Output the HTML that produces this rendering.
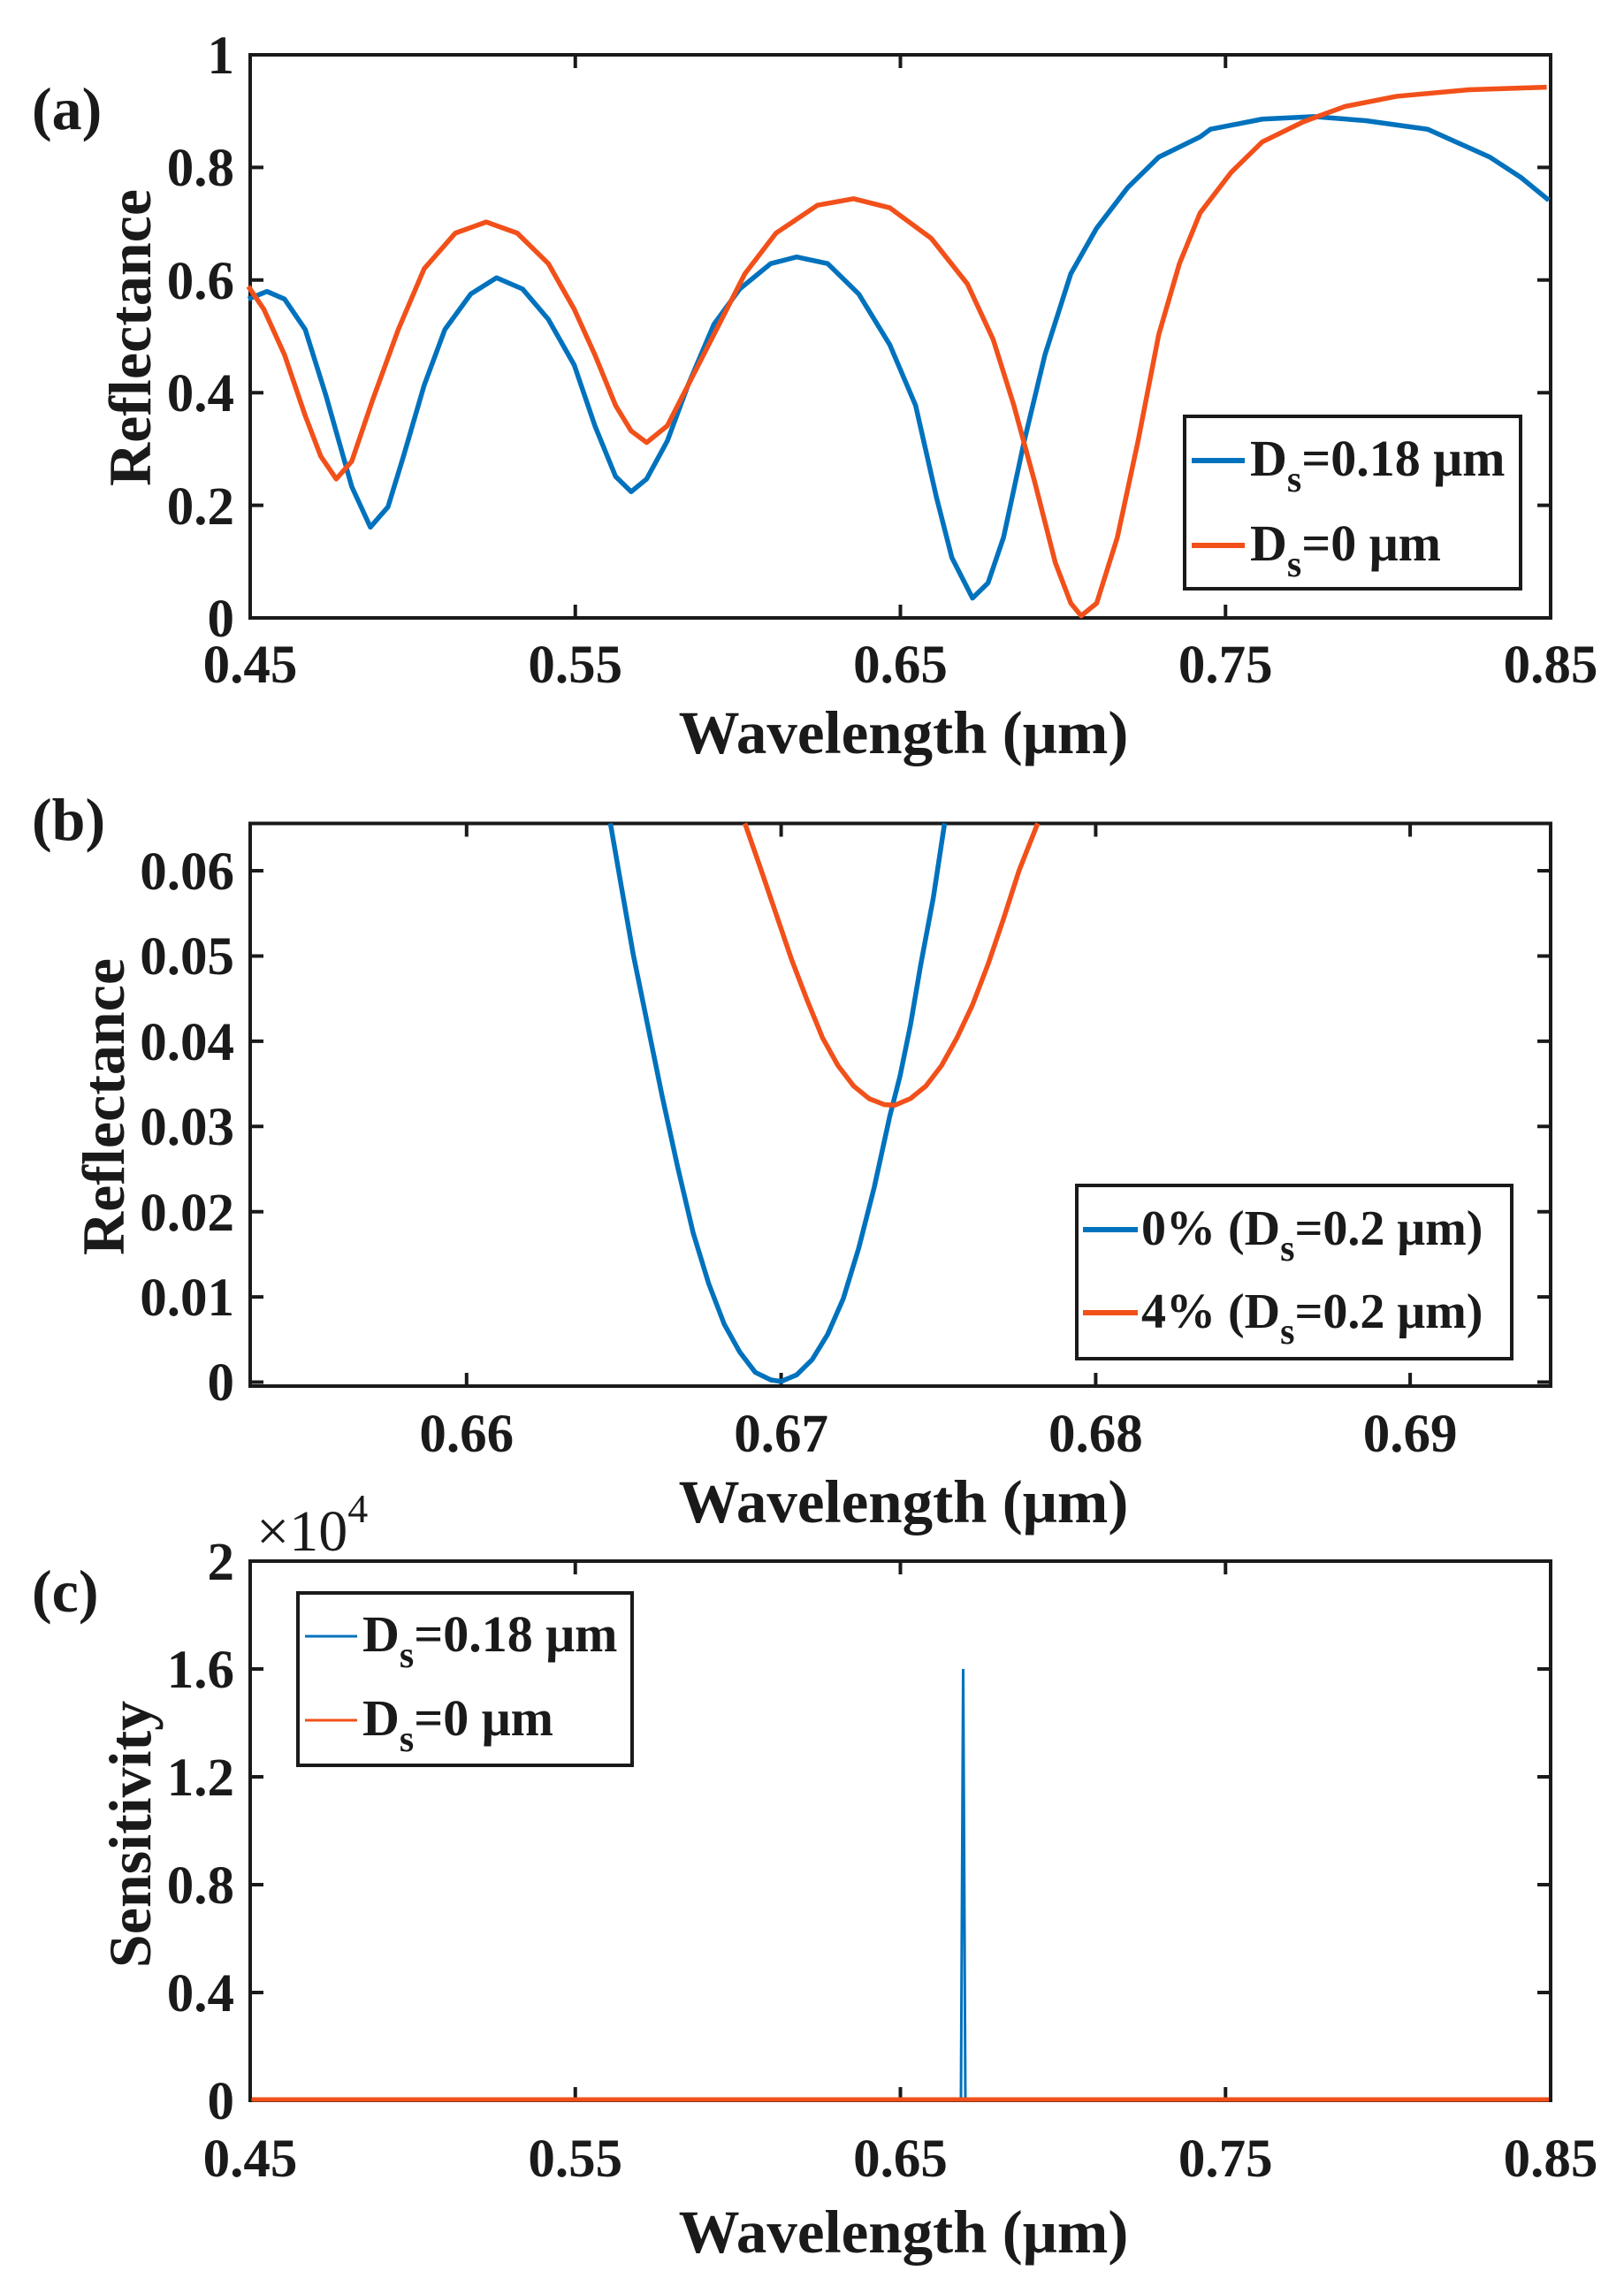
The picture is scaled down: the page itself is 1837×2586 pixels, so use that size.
<!DOCTYPE html>
<html><head><meta charset="utf-8"><style>
html,body{margin:0;padding:0;background:#fff}
svg{display:block}
text{font-family:"Liberation Serif",serif;font-weight:bold;fill:#1a1a1a}
</style></head><body>
<svg width="1837" height="2586" viewBox="0 0 1837 2586" xmlns="http://www.w3.org/2000/svg">
<g font-size="61">
<!-- Panel A -->
<text x="36" y="146" font-size="68">(a)</text>
<g fill="none" stroke="#1a1a1a" stroke-width="4">
<rect x="283" y="62" width="1471" height="637"/>
<path d="M650.75 699v-15M1018.5 699v-15M1386.25 699v-15M650.75 62v15M1018.5 62v15M1386.25 62v15
M283 571.6h15M283 444.2h15M283 316.8h15M283 189.4h15M1754 571.6h-15M1754 444.2h-15M1754 316.8h-15M1754 189.4h-15"/>
</g>
<g text-anchor="end">
<text x="265" y="720">0</text><text x="265" y="593">0.2</text><text x="265" y="465">0.4</text><text x="265" y="338">0.6</text><text x="265" y="210">0.8</text><text x="265" y="83">1</text>
</g>
<g text-anchor="middle">
<text x="283" y="772">0.45</text><text x="650.75" y="772">0.55</text><text x="1018.5" y="772">0.65</text><text x="1386.25" y="772">0.75</text><text x="1754" y="772">0.85</text>
<text x="1022" y="852" font-size="69">Wavelength (μm)</text>
<text transform="translate(170,382) rotate(-90)" font-size="68">Reflectance</text>
</g>
<g transform="scale(1.1703,0.5734)" fill="none" stroke-linejoin="round">
<polyline vector-effect="non-scaling-stroke" stroke-width="5.5" stroke="#0072BD" points="240,590 258,575 275,590 295,650 315,780 340,960 358,1040 375,1000 390,900 410,760 430,650 455,580 480,548 505,570 530,630 555,720 575,840 595,940 610,970 625,945 645,870 665,760 690,640 715,570 745,520 770,507 800,520 830,580 860,680 885,800 905,980 920,1100 940,1180 955,1150 970,1060 990,870 1010,700 1035,540 1060,450 1090,370 1120,310 1160,270 1170,255 1220,235 1270,230 1320,238 1380,255 1440,310 1470,350 1497,395"/>
<polyline vector-effect="non-scaling-stroke" stroke-width="5.5" stroke="#F2501A" points="240,565 255,610 275,700 295,820 310,900 325,945 340,910 360,790 385,650 410,530 440,460 470,438 500,460 530,520 555,610 575,700 595,800 610,850 625,873 645,840 670,740 695,640 720,540 750,460 790,405 825,392 860,410 900,470 935,560 960,670 980,800 1000,950 1020,1110 1035,1190 1045,1215 1060,1190 1080,1060 1100,870 1120,660 1140,520 1160,420 1190,340 1220,280 1260,240 1300,210 1350,190 1420,177 1495,172"/>
</g>
<rect x="1340" y="471" width="380" height="195" fill="#fff" stroke="#1a1a1a" stroke-width="4"/>
<line x1="1348" y1="521" x2="1408" y2="521" stroke="#0072BD" stroke-width="6"/>
<line x1="1348" y1="617" x2="1408" y2="617" stroke="#F2501A" stroke-width="6"/>
<g font-size="58">
<text x="1414" y="538">D<tspan font-size="42" dy="18">s</tspan><tspan dy="-18">=0.18 μm</tspan></text>
<text x="1414" y="634">D<tspan font-size="42" dy="18">s</tspan><tspan dy="-18">=0 μm</tspan></text>
</g>

<!-- Panel B -->
<text x="36" y="950" font-size="68">(b)</text>
<g fill="none" stroke="#1a1a1a" stroke-width="4">
<rect x="283" y="931.5" width="1471" height="636.5"/>
<path d="M527.8 1568v-15M883.6 1568v-15M1239.4 1568v-15M1595.1 1568v-15M527.8 931.5v15M883.6 931.5v15M1239.4 931.5v15M1595.1 931.5v15
M283 1563.5h15M283 1467.1h15M283 1370.7h15M283 1274.3h15M283 1177.9h15M283 1081.5h15M283 985h15
M1754 1563.5h-15M1754 1467.1h-15M1754 1370.7h-15M1754 1274.3h-15M1754 1177.9h-15M1754 1081.5h-15M1754 985h-15"/>
</g>
<g text-anchor="end">
<text x="265" y="1584">0</text><text x="265" y="1488">0.01</text><text x="265" y="1392">0.02</text><text x="265" y="1295">0.03</text><text x="265" y="1199">0.04</text><text x="265" y="1102">0.05</text><text x="265" y="1006">0.06</text>
</g>
<g text-anchor="middle">
<text x="527.8" y="1642">0.66</text><text x="883.6" y="1642">0.67</text><text x="1239.4" y="1642">0.68</text><text x="1595.1" y="1642">0.69</text>
<text x="1022" y="1722" font-size="69">Wavelength (μm)</text>
<text transform="translate(140,1252) rotate(-90)" font-size="68">Reflectance</text>
</g>
<g transform="translate(0,850) scale(1.1703,0.5734)" fill="none" stroke-linejoin="round">
<polyline vector-effect="non-scaling-stroke" stroke-width="5.5" stroke="#0072BD" points="590,142 600,260 612,400 625,530 640,680 655,820 670,950 685,1050 700,1130 715,1185 730,1225 745,1240 755,1243 770,1230 785,1200 800,1150 815,1080 830,980 845,860 860,720 870,640 880,540 890,420 902,290 913,142"/>
<polyline vector-effect="non-scaling-stroke" stroke-width="5.5" stroke="#F2501A" points="720,142 735,230 750,320 765,410 780,490 795,565 810,620 825,660 840,685 855,697 865,698 880,685 895,660 910,620 925,565 940,500 955,420 970,330 985,235 1003,142"/>
</g>
<rect x="1218" y="1341" width="492" height="196" fill="#fff" stroke="#1a1a1a" stroke-width="4"/>
<line x1="1225" y1="1391" x2="1287" y2="1391" stroke="#0072BD" stroke-width="6"/>
<line x1="1225" y1="1485" x2="1287" y2="1485" stroke="#F2501A" stroke-width="6"/>
<g font-size="56">
<text x="1291" y="1408">0% (D<tspan font-size="42" dy="18">s</tspan><tspan dy="-18">=0.2 μm)</tspan></text>
<text x="1291" y="1502">4% (D<tspan font-size="42" dy="18">s</tspan><tspan dy="-18">=0.2 μm)</tspan></text>
</g>

<!-- Panel C -->
<text x="36" y="1823" font-size="68">(c)</text>
<text x="290" y="1754" font-size="66" style="font-weight:normal">×10<tspan font-size="46" dy="-32">4</tspan></text>
<g fill="none" stroke="#1a1a1a" stroke-width="4">
<rect x="283" y="1766" width="1471" height="610"/>
<path d="M650.75 2376v-15M1018.5 2376v-15M1386.25 2376v-15M650.75 1766v15M1018.5 1766v15M1386.25 1766v15
M283 2254h15M283 2132h15M283 2010h15M283 1888h15M1754 2254h-15M1754 2132h-15M1754 2010h-15M1754 1888h-15"/>
</g>
<g text-anchor="end">
<text x="265" y="2397">0</text><text x="265" y="2275">0.4</text><text x="265" y="2153">0.8</text><text x="265" y="2031">1.2</text><text x="265" y="1909">1.6</text><text x="265" y="1787">2</text>
</g>
<g text-anchor="middle">
<text x="283" y="2462">0.45</text><text x="650.75" y="2462">0.55</text><text x="1018.5" y="2462">0.65</text><text x="1386.25" y="2462">0.75</text><text x="1754" y="2462">0.85</text>
<text x="1022" y="2548" font-size="69">Wavelength (μm)</text>
<text transform="translate(170,2075) rotate(-90)" font-size="68">Sensitivity</text>
</g>
<polyline fill="none" stroke="#0072BD" stroke-width="3" points="284,2375 1087,2375 1089.5,1888 1092,2375 1752,2375"/>
<line x1="285" y1="2375" x2="1752" y2="2375" stroke="#F2501A" stroke-width="5"/>
<rect x="337" y="1802" width="378" height="195" fill="#fff" stroke="#1a1a1a" stroke-width="4"/>
<line x1="345" y1="1851" x2="404" y2="1851" stroke="#0072BD" stroke-width="3"/>
<line x1="345" y1="1946" x2="404" y2="1946" stroke="#F2501A" stroke-width="3"/>
<g font-size="58">
<text x="410" y="1868">D<tspan font-size="42" dy="18">s</tspan><tspan dy="-18">=0.18 μm</tspan></text>
<text x="410" y="1963">D<tspan font-size="42" dy="18">s</tspan><tspan dy="-18">=0 μm</tspan></text>
</g>
</g>
</svg>
</body></html>
